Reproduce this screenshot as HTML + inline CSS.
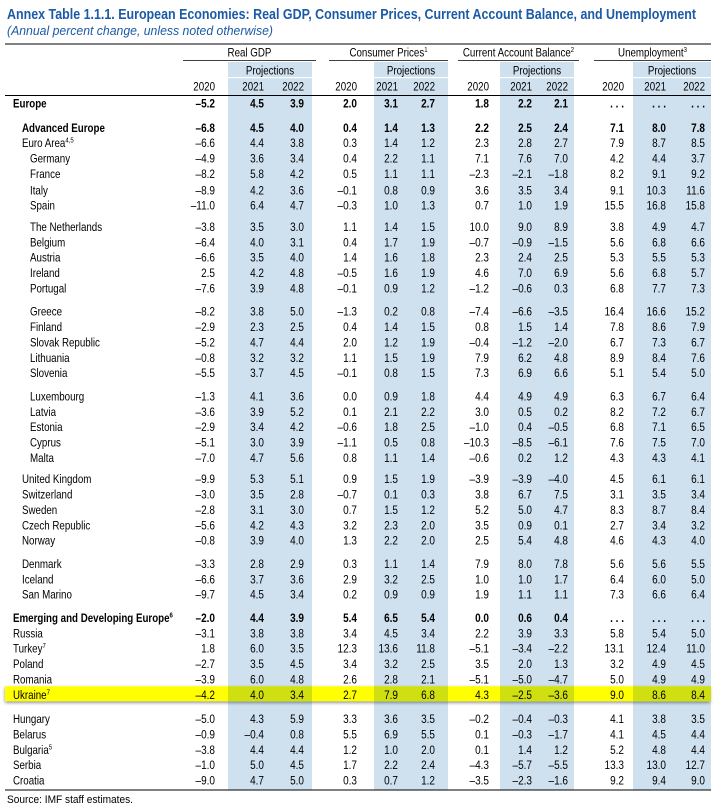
<!DOCTYPE html>
<html><head><meta charset="utf-8"><style>
html,body{margin:0;padding:0;background:#fff;}
svg{display:block;font-family:"Liberation Sans Narrow","Liberation Sans",sans-serif;}
</style></head><body>
<svg id="tbl" width="716" height="808" viewBox="0 0 716 808" xmlns="http://www.w3.org/2000/svg">
<defs><filter id="sh" x="-5%" y="-50%" width="110%" height="200%"><feDropShadow dx="0" dy="1.5" stdDeviation="1.5" flood-color="#000" flood-opacity="0.45"/></filter></defs>
<g id="bands"></g>
<g id="hl"></g>
<text x="7" y="19" font-size="14.5" font-weight="bold" fill="#1b5aa6" textLength="689" lengthAdjust="spacingAndGlyphs">Annex Table 1.1.1. European Economies: Real GDP, Consumer Prices, Current Account Balance, and Unemployment</text>
<text x="7" y="35" font-size="12.5" font-style="italic" fill="#1b5aa6" textLength="266" lengthAdjust="spacingAndGlyphs">(Annual percent change, unless noted otherwise)</text>
<line x1="5" y1="44" x2="711" y2="44" stroke="#000" stroke-width="1"/>
<line x1="5" y1="95.5" x2="711" y2="95.5" stroke="#000" stroke-width="1"/>
<line x1="5" y1="790" x2="711" y2="790" stroke="#000" stroke-width="1"/>
<g id="hdr"></g>
<g id="rows"></g>
<text x="7" y="803" font-size="11" fill="#000" textLength="126" lengthAdjust="spacingAndGlyphs">Source: IMF staff estimates.</text>
</svg>
<script>
const groups = ["Real GDP","Consumer Prices","Current Account Balance","Unemployment"];
const groupSup = ["","1","2","3"];
const years = ["2020","2021","2022"];
const countries = ["Europe","Advanced Europe","Euro Area","Germany","France","Italy","Spain","The Netherlands","Belgium","Austria","Ireland","Portugal","Greece","Finland","Slovak Republic","Lithuania","Slovenia","Luxembourg","Latvia","Estonia","Cyprus","Malta","United Kingdom","Switzerland","Sweden","Czech Republic","Norway","Denmark","Iceland","San Marino","Emerging and Developing Europe","Russia","Turkey","Poland","Romania","Ukraine","Hungary","Belarus","Bulgaria","Serbia","Croatia"];
const sups = {"Euro Area":"4,5","Emerging and Developing Europe":"6","Turkey":"7","Ukraine":"7","Bulgaria":"5"};
const gdp = [[-5.2,4.5,3.9],[-6.8,4.5,4.0],[-6.6,4.4,3.8],[-4.9,3.6,3.4],[-8.2,5.8,4.2],[-8.9,4.2,3.6],[-11.0,6.4,4.7],[-3.8,3.5,3.0],[-6.4,4.0,3.1],[-6.6,3.5,4.0],[2.5,4.2,4.8],[-7.6,3.9,4.8],[-8.2,3.8,5.0],[-2.9,2.3,2.5],[-5.2,4.7,4.4],[-0.8,3.2,3.2],[-5.5,3.7,4.5],[-1.3,4.1,3.6],[-3.6,3.9,5.2],[-2.9,3.4,4.2],[-5.1,3.0,3.9],[-7.0,4.7,5.6],[-9.9,5.3,5.1],[-3.0,3.5,2.8],[-2.8,3.1,3.0],[-5.6,4.2,4.3],[-0.8,3.9,4.0],[-3.3,2.8,2.9],[-6.6,3.7,3.6],[-9.7,4.5,3.4],[-2.0,4.4,3.9],[-3.1,3.8,3.8],[1.8,6.0,3.5],[-2.7,3.5,4.5],[-3.9,6.0,4.8],[-4.2,4.0,3.4],[-5.0,4.3,5.9],[-0.9,-0.4,0.8],[-3.8,4.4,4.4],[-1.0,5.0,4.5],[-9.0,4.7,5.0]];
const cpi = [[2.0,3.1,2.7],[0.4,1.4,1.3],[0.3,1.4,1.2],[0.4,2.2,1.1],[0.5,1.1,1.1],[-0.1,0.8,0.9],[-0.3,1.0,1.3],[1.1,1.4,1.5],[0.4,1.7,1.9],[1.4,1.6,1.8],[-0.5,1.6,1.9],[-0.1,0.9,1.2],[-1.3,0.2,0.8],[0.4,1.4,1.5],[2.0,1.2,1.9],[1.1,1.5,1.9],[-0.1,0.8,1.5],[0.0,0.9,1.8],[0.1,2.1,2.2],[-0.6,1.8,2.5],[-1.1,0.5,0.8],[0.8,1.1,1.4],[0.9,1.5,1.9],[-0.7,0.1,0.3],[0.7,1.5,1.2],[3.2,2.3,2.0],[1.3,2.2,2.0],[0.3,1.1,1.4],[2.9,3.2,2.5],[0.2,0.9,0.9],[5.4,6.5,5.4],[3.4,4.5,3.4],[12.3,13.6,11.8],[3.4,3.2,2.5],[2.6,2.8,2.1],[2.7,7.9,6.8],[3.3,3.6,3.5],[5.5,6.9,5.5],[1.2,1.0,2.0],[1.7,2.2,2.4],[0.3,0.7,1.2]];
const cab = [[1.8,2.2,2.1],[2.2,2.5,2.4],[2.3,2.8,2.7],[7.1,7.6,7.0],[-2.3,-2.1,-1.8],[3.6,3.5,3.4],[0.7,1.0,1.9],[10.0,9.0,8.9],[-0.7,-0.9,-1.5],[2.3,2.4,2.5],[4.6,7.0,6.9],[-1.2,-0.6,0.3],[-7.4,-6.6,-3.5],[0.8,1.5,1.4],[-0.4,-1.2,-2.0],[7.9,6.2,4.8],[7.3,6.9,6.6],[4.4,4.9,4.9],[3.0,0.5,0.2],[-1.0,0.4,-0.5],[-10.3,-8.5,-6.1],[-0.6,0.2,1.2],[-3.9,-3.9,-4.0],[3.8,6.7,7.5],[5.2,5.0,4.7],[3.5,0.9,0.1],[2.5,5.4,4.8],[7.9,8.0,7.8],[1.0,1.0,1.7],[1.9,1.1,1.1],[0.0,0.6,0.4],[2.2,3.9,3.3],[-5.1,-3.4,-2.2],[3.5,2.0,1.3],[-5.1,-5.0,-4.7],[4.3,-2.5,-3.6],[-0.2,-0.4,-0.3],[0.1,-0.3,-1.7],[0.1,1.4,1.2],[-4.3,-5.7,-5.5],[-3.5,-2.3,-1.6]];
const unemp = [[null,null,null],[7.1,8.0,7.8],[7.9,8.7,8.5],[4.2,4.4,3.7],[8.2,9.1,9.2],[9.1,10.3,11.6],[15.5,16.8,15.8],[3.8,4.9,4.7],[5.6,6.8,6.6],[5.3,5.5,5.3],[5.6,6.8,5.7],[6.8,7.7,7.3],[16.4,16.6,15.2],[7.8,8.6,7.9],[6.7,7.3,6.7],[8.9,8.4,7.6],[5.1,5.4,5.0],[6.3,6.7,6.4],[8.2,7.2,6.7],[6.8,7.1,6.5],[7.6,7.5,7.0],[4.3,4.3,4.1],[4.5,6.1,6.1],[3.1,3.5,3.4],[8.3,8.7,8.4],[2.7,3.4,3.2],[4.6,4.3,4.0],[5.6,5.6,5.5],[6.4,6.0,5.0],[7.3,6.6,6.4],[null,null,null],[5.8,5.4,5.0],[13.1,12.4,11.0],[3.2,4.9,4.5],[5.0,4.9,4.9],[9.0,8.6,8.4],[4.1,3.8,3.5],[4.1,4.5,4.4],[5.2,4.8,4.4],[13.3,13.0,12.7],[9.2,9.4,9.0]];

const NS="http://www.w3.org/2000/svg";
function el(tag, attrs, parent){const e=document.createElementNS(NS,tag);for(const k in attrs)e.setAttribute(k,attrs[k]);parent.appendChild(e);return e;}
function squeeze(t,f){const w=t.getComputedTextLength();if(w>0){t.setAttribute('textLength',(w*f).toFixed(1));t.setAttribute('lengthAdjust','spacingAndGlyphs');}}
const colRight=[[215,264,304],[357,398,435],[489,532,568],[624,666,705]];
const bandX=[[228,312],[374,448],[500,574],[633,711]];
const lineX=[[183,316],[329,448],[458,579],[594,711]];
const bold=new Set(["Europe","Advanced Europe","Emerging and Developing Europe"]);
const indent={"Europe":13,"Advanced Europe":22,"Euro Area":22,"Emerging and Developing Europe":13};
const gapBefore={"Advanced Europe":9,"The Netherlands":6,"Greece":8,"Luxembourg":8,"United Kingdom":6,"Denmark":8,"Emerging and Developing Europe":8,"Hungary":9,"Italy":1};
const emergingIdx=countries.indexOf("Emerging and Developing Europe");
const ROW=15.35;
const FS=12.2;
const ys=[];let y=103;
countries.forEach((c,i)=>{if(i>0){y+=ROW+(gapBefore[c]||0);}ys.push(y);});

const bands=document.getElementById('bands');
bandX.forEach((b,g)=>{
  const r=el('rect',{x:b[0],y:62,width:b[1]-b[0],height:728,fill:'#cfe0ef'},bands);
  
  
  el('rect',{x:b[0],y:77,width:b[1]-b[0],height:1.2,fill:'#fff'},bands);
});
const uk=countries.indexOf("Ukraine");
const hl=document.getElementById('hl');
const hr=el('rect',{x:5,y:ys[uk]-8,width:705,height:15,fill:'#ffff00',filter:'url(#sh)'},hl);


bandX.forEach(b=>{el('rect',{x:b[0],y:ys[uk]-8,width:b[1]-b[0],height:15,fill:'#cfdf10'},hl);});

const hdr=document.getElementById('hdr');
groups.forEach((g,i)=>{
  const t=el('text',{x:(lineX[i][0]+lineX[i][1])/2,y:56.5,'font-size':FS,'text-anchor':'middle'},hdr);
  
  
  t.textContent=g;
  if(groupSup[i]){const s=el('tspan',{'font-size':7.5,dy:-4.5},t);s.textContent=groupSup[i];}
  squeeze(t,0.8);
  el('line',{x1:lineX[i][0],y1:60.5,x2:lineX[i][1],y2:60.5,stroke:'#000','stroke-width':0.8},hdr);
  const p=el('text',{x:(bandX[i][0]+bandX[i][1])/2,y:74.5,'font-size':FS,'text-anchor':'middle'},hdr);
  
  
  p.textContent='Projections';
  squeeze(p,0.8);
  years.forEach((yr,j)=>{
    const t2=el('text',{x:colRight[i][j],y:90.5,'font-size':FS,'text-anchor':'end'},hdr);
    
    
    t2.textContent=yr;
    squeeze(t2,0.8);
  });
});

function fmt(v){if(v===null)return '. . .';return (v<0?'\u2013':'')+Math.abs(v).toFixed(1);}
const rows=document.getElementById('rows');
const data=[gdp,cpi,cab,unemp];
countries.forEach((c,i)=>{
  const g=el('g',{},rows);
  
  
  const fw=bold.has(c)?'bold':'normal';
  const x=indent[c]!==undefined?indent[c]:(i>emergingIdx?13:(i>=22?22:30));
  const t=el('text',{x:x,y:ys[i]+4.5,'font-size':FS,'font-weight':fw},g);
  t.textContent=c;
  if(sups[c]){const s=el('tspan',{'font-size':7.5,dy:-4.5},t);s.textContent=sups[c];}
  squeeze(t,0.8);
  data.forEach((arr,k)=>{
    arr[i].forEach((v,j)=>{
      const n=el('text',{x:colRight[k][j],y:ys[i]+4.5,'font-size':FS,'font-weight':fw,'text-anchor':'end'},g);
      n.textContent=fmt(v);
      squeeze(n,0.82);
    });
  });
});
</script>
</body></html>
